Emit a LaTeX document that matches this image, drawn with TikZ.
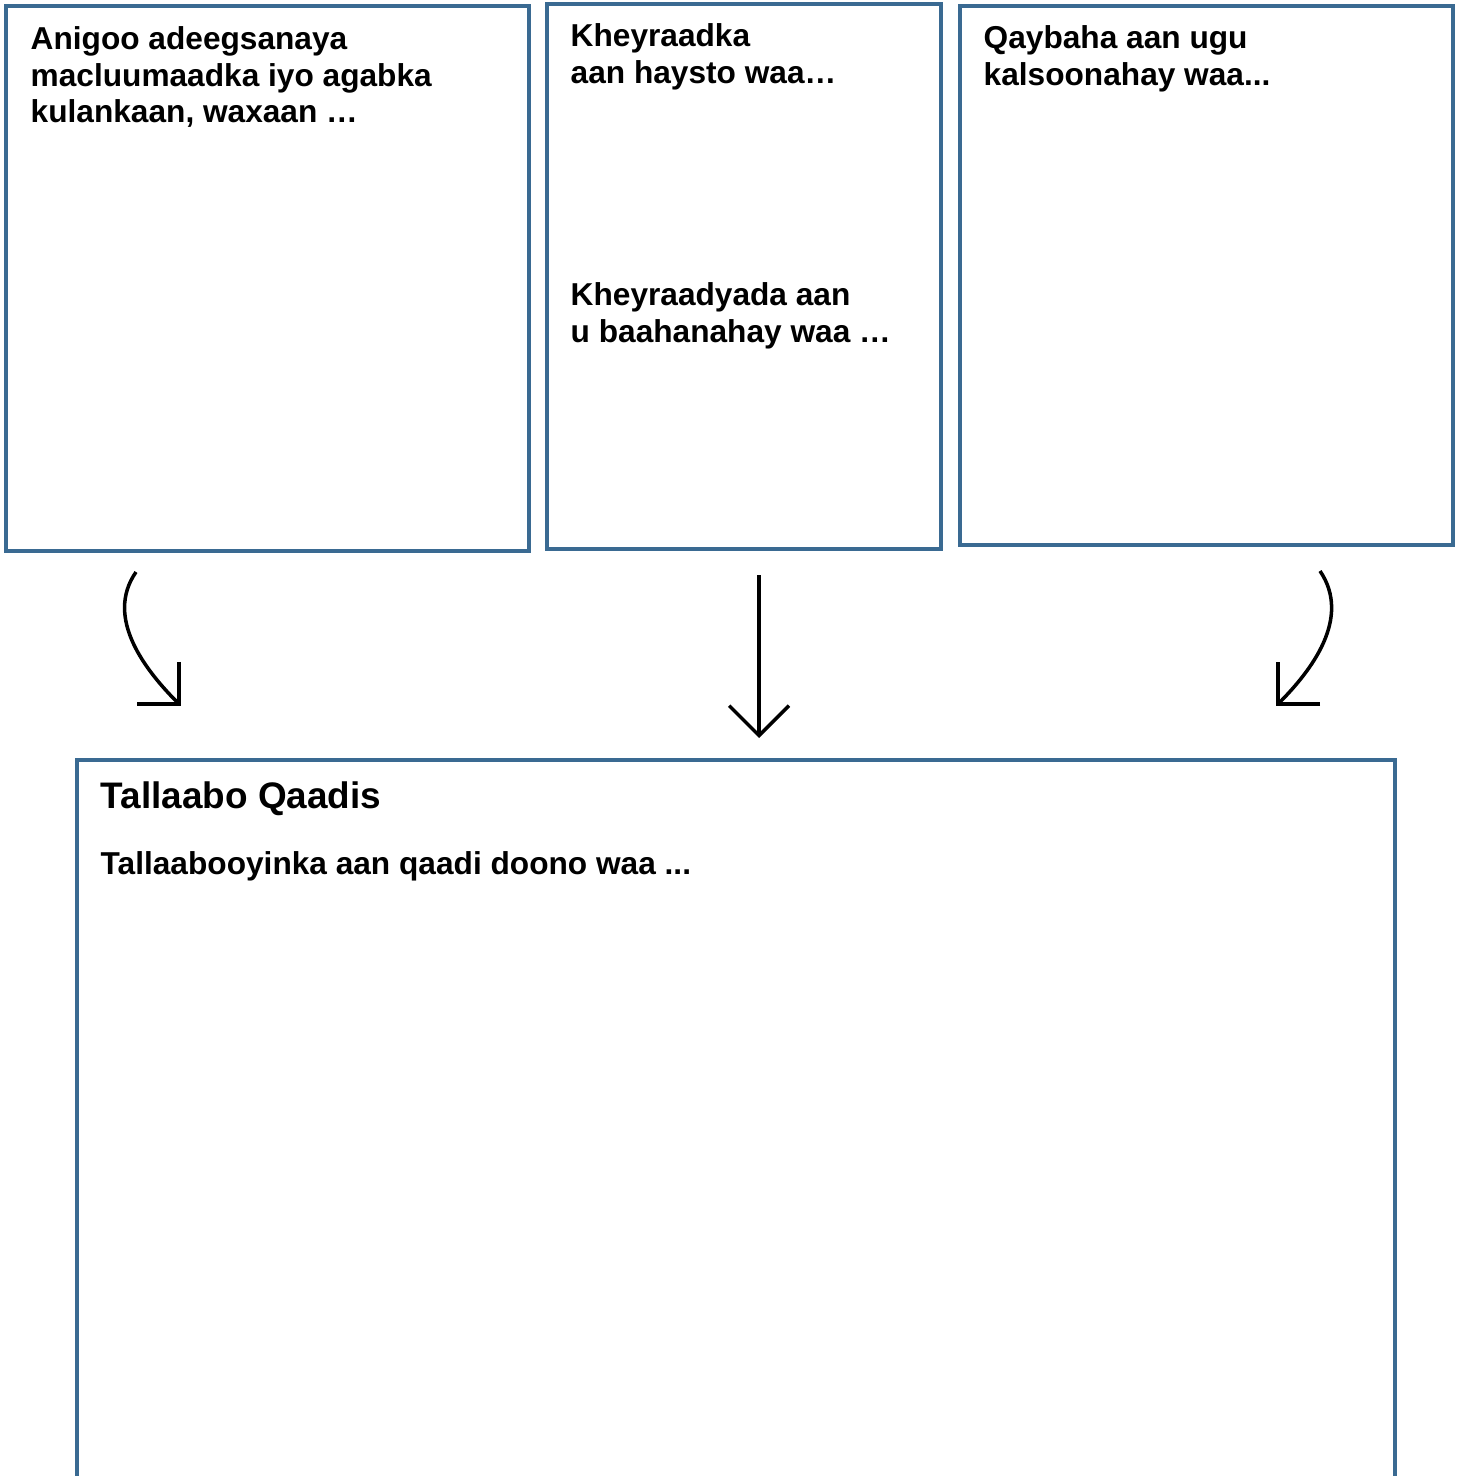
\documentclass[tikz,border=0pt]{standalone}
\usepackage{fontspec}
\setmainfont{Liberation Sans}
\usetikzlibrary{arrows.meta}
\definecolor{panelblue}{RGB}{58,106,146}

\begin{document}
\begin{tikzpicture}[x=0.01cm, y=-0.01cm, >={Straight Barb[length=8.5pt, width=17pt]},
    panel/.style={draw=panelblue, line width=1.15pt, anchor=north west, inner sep=0pt, outer sep=0pt},
    prompt/.style={anchor=north west, inner sep=0pt, align=left,
        font=\fontsize{9pt}{10.4pt}\selectfont\bfseries},
    flow/.style={->, line width=1pt, black}]
        % --- Cadre de la page ---
        \useasboundingbox (0, 0) rectangle (1460, 1476);

        % ==============================================================
        % Panneaux du haut
        % ==============================================================
        \node[panel, minimum width=5.23cm, minimum height=5.45cm] (b1) at (6, 6) {};
        \node[panel, minimum width=3.94cm, minimum height=5.45cm] (b2) at (547, 4) {};
        \node[panel, minimum width=4.93cm, minimum height=5.39cm] (b3) at (960, 6) {};

        \node[prompt] (t1) at (30, 26) {Anigoo adeegsanaya\\macluumaadka iyo agabka\\kulankaan, waxaan …};
        \node[prompt] (t2a) at (570, 23) {Kheyraadka\\aan haysto waa…};
        \node[prompt] (t2b) at (570, 282) {Kheyraadyada aan\\u baahanahay waa …};
        \node[prompt] (t3) at (983, 25) {Qaybaha aan ugu\\kalsoonahay waa...};

        % ==============================================================
        % Panneau du bas (coupé par le bord de la page)
        % ==============================================================
        \node[panel, minimum width=13.17cm, minimum height=7.4cm] (b4) at (77, 760) {};
        \node[prompt, font=\fontsize{10.5pt}{12pt}\selectfont\bfseries] (t4) at (100, 781) {Tallaabo Qaadis};
        \node[prompt] (t5) at (100, 851) {Tallaabooyinka aan qaadi doono waa ...};

        % --- Extrémités des flèches ---
        \coordinate (a1s) at (136, 572);
        \coordinate (a1e) at (181, 706);
        \coordinate (a2s) at (759, 575);
        \coordinate (a2e) at (759, 738);
        \coordinate (a3s) at (1320, 571);
        \coordinate (a3e) at (1276, 706);

        % Flèches vers le panneau du bas (pointe à 45°)
        \draw[flow] (a1s) .. controls (104, 618) and (146, 671) .. (a1e);
        \draw[flow] (a2s) -- (a2e);
        \draw[flow] (a3s) .. controls (1352, 618) and (1311, 671) .. (a3e);

    \end{tikzpicture}
\end{document}
